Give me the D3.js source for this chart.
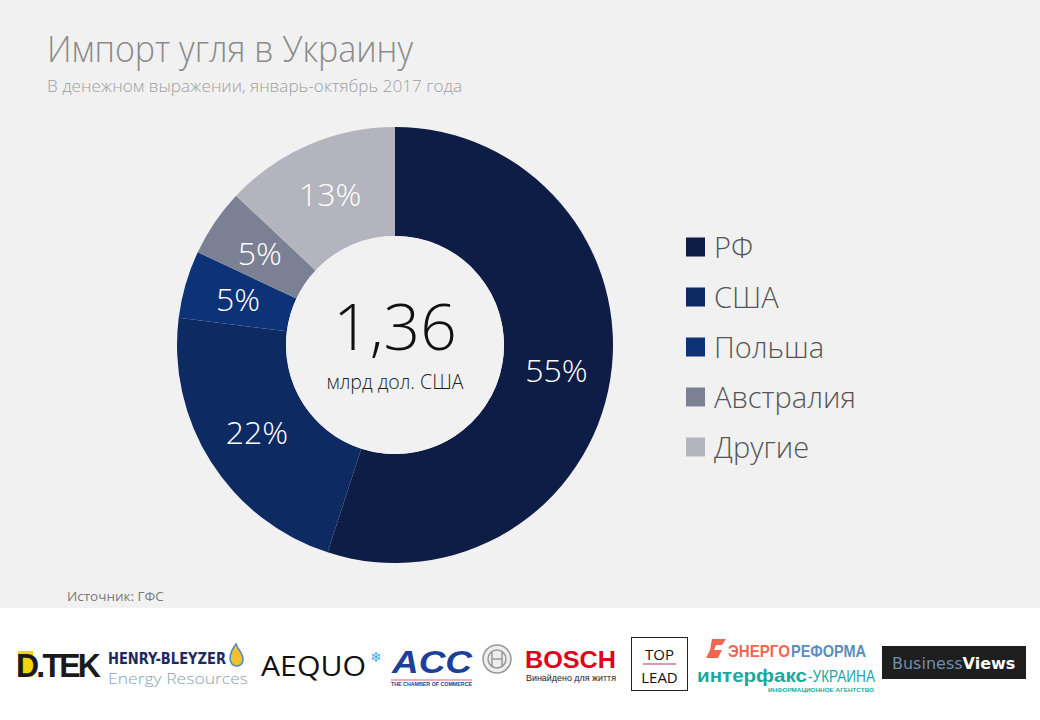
<!DOCTYPE html>
<html><head><meta charset="utf-8">
<script src="https://cdn.jsdelivr.net/npm/d3@7"></script>
<style>
html,body{margin:0;padding:0;background:#f1f1f2;}
svg{display:block;}
</style></head>
<body>
<svg id="chart" width="1040" height="720"></svg>
<script>
const categories = ["РФ", "США", "Польша", "Австралия", "Другие"];
const shares = [55, 22, 5, 5, 13];
const colors = ["#0d1d45", "#0d2a63", "#0c3377", "#7c8094", "#b3b4be"];
const totalValue = "1,36";
const totalUnit = "млрд дол. США";
const title = "Импорт угля в Украину";
const subtitle = "В денежном выражении, январь-октябрь 2017 года";
const source = "Источник: ГФС";

const font = "'Open Sans', 'Noto Sans', sans-serif";
const svg = d3.select("#chart");

svg.append("rect").attr("width", 1040).attr("height", 608).attr("fill", "#f1f1f2");
svg.append("rect").attr("y", 608).attr("width", 1040).attr("height", 112).attr("fill", "#ffffff");

svg.append("text").attr("x", 47).attr("y", 62).text(title)
  .attr("font-family", font).attr("font-weight", 300).attr("font-size", 36).attr("fill", "#8a8a8a")
  .attr("textLength", 366).attr("lengthAdjust", "spacingAndGlyphs");
svg.append("text").attr("x", 47).attr("y", 92).text(subtitle)
  .attr("font-family", font).attr("font-weight", 300).attr("font-size", 17).attr("fill", "#a0a0a0")
  .attr("textLength", 415).attr("lengthAdjust", "spacingAndGlyphs");

const cx = 395, cy = 345, rOuter = 218, rInner = 109;
const pie = d3.pie().sort(null).value(d => d.v);
const arcs = pie(categories.map((c, i) => ({c, v: shares[i], i})));
const arc = d3.arc().innerRadius(rInner).outerRadius(rOuter);
const color = d3.scaleOrdinal().domain(categories).range(colors);

const g = svg.append("g").attr("transform", `translate(${cx},${cy})`);
g.selectAll("path.slice").data(arcs).join("path").attr("class", "slice")
  .attr("d", arc).attr("fill", d => color(d.data.c));
g.selectAll("text.pct").data(arcs).join("text").attr("class", "pct")
  .attr("transform", d => `translate(${arc.centroid(d)})`)
  .attr("text-anchor", "middle").attr("dy", "0.36em")
  .attr("font-family", font).attr("font-weight", 300).attr("font-size", 32)
  .attr("fill", "#ffffff").text(d => d.data.v + "%");

g.append("circle").attr("r", rInner).attr("fill", "#f1f1f2");
g.append("text").attr("y", 5).attr("text-anchor", "middle").text(totalValue)
  .attr("font-family", font).attr("font-weight", 300).attr("font-size", 64).attr("fill", "#111");
g.append("text").attr("y", 44).attr("text-anchor", "middle").text(totalUnit)
  .attr("font-family", font).attr("font-weight", 300).attr("font-size", 19.5).attr("fill", "#222");

const ly = d3.scalePoint().domain(categories).range([247, 447]);
const lg = svg.append("g");
const items = lg.selectAll("g").data(categories).join("g")
  .attr("transform", d => `translate(686,${ly(d)})`);
items.append("rect").attr("y", -9.5).attr("width", 19).attr("height", 19).attr("fill", d => color(d));
items.append("text").attr("x", 28).attr("y", 11).text(d => d)
  .attr("font-family", font).attr("font-weight", 300).attr("font-size", 29).attr("fill", "#555");

svg.append("text").attr("x", 67).attr("y", 601).text(source)
  .attr("font-family", font).attr("font-size", 13.5).attr("fill", "#7a7a7a");

// sponsor logos (approximate, as text)
const L = svg.append("g");
// DTEK
L.append("rect").attr("x", 18).attr("y", 651).attr("width", 15).attr("height", 26).attr("fill", "#f2d600");
L.append("text").attr("x", 16).attr("y", 677).text("D.TEK")
  .attr("font-family", "'Liberation Sans', Arial, sans-serif").attr("font-weight", 900)
  .attr("font-size", 34).attr("letter-spacing", -3).attr("fill", "#1a1a1a")
  .attr("textLength", 82).attr("lengthAdjust", "spacingAndGlyphs");
// Henry-Bleyzer
L.append("text").attr("x", 108).attr("y", 664).text("HENRY-BLEYZER")
  .attr("font-family", "'DejaVu Sans Condensed', 'Liberation Sans Narrow', sans-serif").attr("font-weight", 700)
  .attr("font-size", 15).attr("fill", "#1e2a5e").attr("textLength", 118).attr("lengthAdjust", "spacingAndGlyphs");
L.append("text").attr("x", 108).attr("y", 684).text("Energy Resources")
  .attr("font-family", font).attr("font-weight", 300).attr("font-size", 15).attr("fill", "#8aa0b4")
  .attr("textLength", 140).attr("lengthAdjust", "spacingAndGlyphs");
L.append("path").attr("d", "M236,644 C230,652 228,658 232,664 C236,668 243,666 243,659 C243,653 238,650 236,644 Z")
  .attr("fill", "#f0c030").attr("stroke", "#4a8ac8").attr("stroke-width", 1.5);
// AEQUO
L.append("text").attr("x", 261).attr("y", 676).text("AEQUO")
  .attr("font-family", font).attr("font-weight", 400).attr("font-size", 28).attr("fill", "#111")
  .attr("textLength", 105).attr("lengthAdjust", "spacingAndGlyphs");
L.append("text").attr("x", 376).attr("y", 662).attr("text-anchor", "middle").text("❄")
  .attr("font-family", "'DejaVu Sans', sans-serif").attr("font-size", 14).attr("fill", "#49a7e0");
// ACC
L.append("text").attr("x", 392).attr("y", 673).text("ACC")
  .attr("font-family", "'Liberation Sans', Arial, sans-serif").attr("font-weight", 900).attr("font-style", "italic")
  .attr("font-size", 31).attr("fill", "#1d3f9c").attr("textLength", 80).attr("lengthAdjust", "spacingAndGlyphs");
L.append("text").attr("x", 391).attr("y", 686).text("THE CHAMBER OF COMMERCE")
  .attr("font-family", "'Liberation Sans', Arial, sans-serif").attr("font-weight", 700)
  .attr("font-size", 5).attr("fill", "#1d3f9c").attr("textLength", 81).attr("lengthAdjust", "spacingAndGlyphs");
L.append("line").attr("x1", 391).attr("x2", 472).attr("y1", 680).attr("y2", 680).attr("stroke", "#d33").attr("stroke-width", 0.8);
// Bosch symbol
L.append("circle").attr("cx", 497).attr("cy", 659).attr("r", 14).attr("fill", "#eee").attr("stroke", "#999").attr("stroke-width", 1.5);
L.append("circle").attr("cx", 497).attr("cy", 659).attr("r", 9).attr("fill", "none").attr("stroke", "#999").attr("stroke-width", 1.5);
L.append("path").attr("d", "M492,652 V666 M502,652 V666 M492,659 H502").attr("stroke", "#999").attr("stroke-width", 1.5);
L.append("text").attr("x", 525).attr("y", 668).text("BOSCH")
  .attr("font-family", "'Liberation Sans', Arial, sans-serif").attr("font-weight", 900)
  .attr("font-size", 24).attr("fill", "#e2001a").attr("textLength", 91).attr("lengthAdjust", "spacingAndGlyphs");
L.append("text").attr("x", 526).attr("y", 681).text("Винайдено для життя")
  .attr("font-family", "'Liberation Sans', Arial, sans-serif").attr("font-size", 8.5).attr("fill", "#222")
  .attr("textLength", 90).attr("lengthAdjust", "spacingAndGlyphs");
// TOP LEAD
L.append("rect").attr("x", 631.5).attr("y", 637.5).attr("width", 56).attr("height", 53).attr("fill", "#fff").attr("stroke", "#222").attr("stroke-width", 1);
L.append("text").attr("x", 659.5).attr("y", 660).attr("text-anchor", "middle").text("TOP")
  .attr("font-family", font).attr("font-size", 15).attr("fill", "#111");
L.append("line").attr("x1", 643).attr("x2", 676).attr("y1", 664).attr("y2", 664).attr("stroke", "#b0306a").attr("stroke-width", 1);
L.append("text").attr("x", 659.5).attr("y", 683).attr("text-anchor", "middle").text("LEAD")
  .attr("font-family", font).attr("font-size", 15).attr("fill", "#111");
// Energoreforma / Interfax
L.append("path").attr("d", "M712,639 L726,639 L722,645 L716,645 L714,650 L722,650 L718,658 L706,658 L710,650 Z").attr("fill", "#f06650");
L.append("text").attr("x", 728).attr("y", 657).text("ЭНЕРГО")
  .attr("font-family", "'Liberation Sans', Arial, sans-serif").attr("font-weight", 700)
  .attr("font-size", 17).attr("fill", "#f06650").attr("textLength", 62).attr("lengthAdjust", "spacingAndGlyphs");
L.append("text").attr("x", 791).attr("y", 657).text("РЕФОРМА")
  .attr("font-family", "'Liberation Sans', Arial, sans-serif").attr("font-weight", 700)
  .attr("font-size", 17).attr("fill", "#5a8ec0").attr("textLength", 75).attr("lengthAdjust", "spacingAndGlyphs");
L.append("text").attr("x", 697).attr("y", 682).text("интерфакс")
  .attr("font-family", "'Liberation Sans', Arial, sans-serif").attr("font-weight", 700)
  .attr("font-size", 19).attr("fill", "#1aa8a0").attr("textLength", 110).attr("lengthAdjust", "spacingAndGlyphs");
L.append("text").attr("x", 808).attr("y", 682).text("-УКРАИНА")
  .attr("font-family", "'Liberation Sans', Arial, sans-serif")
  .attr("font-size", 16).attr("fill", "#1aa8a0").attr("textLength", 67).attr("lengthAdjust", "spacingAndGlyphs");
L.append("text").attr("x", 768).attr("y", 692).text("ИНФОРМАЦИОННОЕ АГЕНТСТВО")
  .attr("font-family", "'Liberation Sans', Arial, sans-serif").attr("font-weight", 700)
  .attr("font-size", 4.5).attr("fill", "#1aa8a0").attr("textLength", 106).attr("lengthAdjust", "spacingAndGlyphs");
// BusinessViews
L.append("rect").attr("x", 882).attr("y", 646).attr("width", 144).attr("height", 33).attr("fill", "#1e1e1e");
const bv = L.append("text").attr("x", 892).attr("y", 669)
  .attr("font-family", "'DejaVu Sans', sans-serif").attr("font-size", 16);
bv.append("tspan").text("Business").attr("fill", "#6f8fb0");
bv.append("tspan").text("Views").attr("fill", "#ffffff").attr("font-weight", 700);
</script>
</body></html>
